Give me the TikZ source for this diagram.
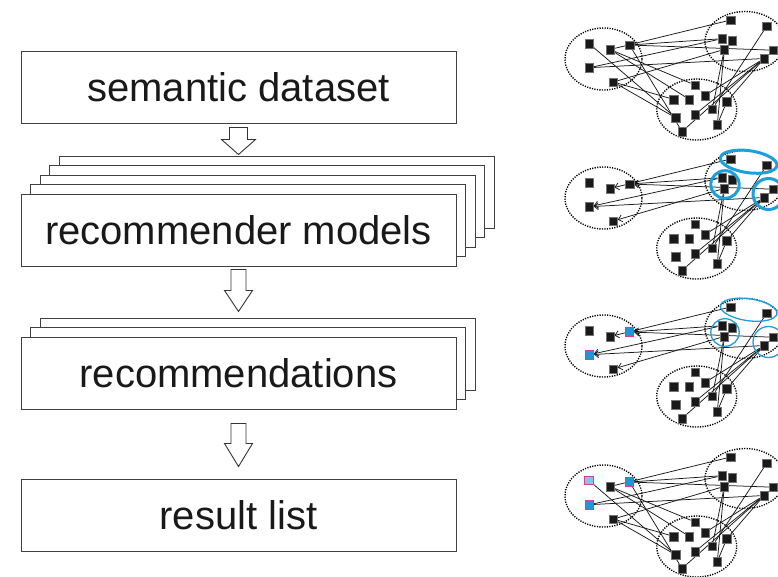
\documentclass[tikz,border=0pt]{standalone}
\usepackage{fontspec}
\setmainfont{Liberation Sans}
\usetikzlibrary{arrows.meta,calc}

\pgfdeclarelayer{paper}
\pgfdeclarelayer{edgelayer}
\pgfsetlayers{paper,edgelayer,main}

\definecolor{hlblue}{RGB}{27,160,221}
\definecolor{selblue}{RGB}{30,150,215}
\definecolor{lightsel}{RGB}{125,198,238}
\definecolor{selrim}{RGB}{228,56,142}

\tikzset{
  stagebox/.style={draw=black!75, line width=1pt, fill=white, rectangle,
    minimum width=435pt, minimum height=72pt, inner sep=0pt,
    font=\fontsize{40}{48}\selectfont, text=black!90},
  flowarrow/.style={draw=black!80, line width=0.9pt, fill=white, line join=miter},
  gitem/.style={rectangle, fill=black!90, draw=black!55, line width=0.3pt,
    minimum size=8.5pt, inner sep=0pt},
  gpicked/.style={gitem, fill=selblue, draw=selrim, line width=0.8pt},
  gpickedlight/.style={gitem, fill=lightsel, draw=selrim, line width=0.8pt},
  clusterline/.style={draw=black, line width=1.4pt, dash pattern=on 1.2pt off 1.3pt},
  glink/.style={line width=0.75pt, draw=black!90},
  gpull/.style={glink, -{Straight Barb[length=4pt,width=7pt]}},
  hlthick/.style={draw=hlblue, line width=3pt},
  hlthin/.style={draw=hlblue, line width=1.3pt},
}

% hollow block arrow: #1 start point (top centre), #2 half shaft width,
% #3 half head width, #4 shaft length, #5 head length
\newcommand{\hollowarrow}[5]{%
  \draw[flowarrow] (#1) ++(-#2,0) -- ++(0,#4) -- ++({#2-#3},0) -- ++(#3,#5)
    -- ++(#3,-#5) -- ++({#2-#3},0) -- ++(0,-#4) -- cycle;}

% three dotted clusters with their items; #1 prefix, #2 vertical offset,
% #3 #4 #5 styles of items L1, L3, L4
\newcommand{\graphnodes}[5]{%
  \begin{scope}[shift={(0,#2)}]
    \draw[clusterline] (603.5,59) ellipse [x radius=38.5pt, y radius=31pt];
    \draw[clusterline] (745,41.5) ellipse [x radius=40pt, y radius=30pt];
    \draw[clusterline] (696.7,109.5) ellipse [x radius=40pt, y radius=30.5pt];
    \node[#3] (#1L1) at (589,43.5) {};
    \node[gitem] (#1L2) at (610,49.5) {};
    \node[#4] (#1L3) at (629.5,45) {};
    \node[#5] (#1L4) at (589.3,67.7) {};
    \node[gitem] (#1L5) at (613.3,82) {};
    \node[gitem] (#1T1) at (730.7,20) {};
    \node[gitem] (#1T2) at (766.7,26.2) {};
    \node[gitem] (#1T3) at (722,38.7) {};
    \node[gitem] (#1T4) at (732.3,40.7) {};
    \node[gitem] (#1T5) at (724.3,49.4) {};
    \node[gitem] (#1T6) at (773.3,50.2) {};
    \node[gitem] (#1T7) at (764,58.5) {};
    \node[gitem] (#1B1) at (695,85) {};
    \node[gitem] (#1B2) at (673.7,99.4) {};
    \node[gitem] (#1B3) at (689.3,99.4) {};
    \node[gitem] (#1B4) at (705,95.5) {};
    \node[gitem] (#1B5) at (726.7,101.8) {};
    \node[gitem] (#1B6) at (712.3,109) {};
    \node[gitem] (#1B7) at (695,114.5) {};
    \node[gitem] (#1B8) at (675.7,117.8) {};
    \node[gitem] (#1B9) at (717.3,124.5) {};
    \node[gitem] (#1B10) at (682,131.5) {};
  \end{scope}}

% links between the two right-hand clusters and the lower one
\newcommand{\sidelinks}[1]{%
  \foreach \p/\q in {T2/B6,T5/B6,T5/B9,T7/B10,T7/B7,T7/B4,T7/B5,B5/B9}
    \draw[glink] (#1\p) -- (#1\q);}
% links from the left cluster to the lower one
\newcommand{\leftlinks}[1]{%
  \foreach \p/\q in {L1/B8,L2/B1,L2/B3,L3/B10,L5/B2,L5/B8}
    \draw[glink] (#1\p) -- (#1\q);}
% links between the left cluster and the upper right one; #2 line style
\newcommand{\acrosslinks}[2]{%
  \foreach \p/\q in {T1/L2,T3/L3,T6/L3,T3/L4,T7/L4,T5/L5}
    \draw[#2] (#1\p) -- (#1\q);}

% rings round the selected groups; #1 vertical offset, #2 style
\newcommand{\grouprings}[2]{%
  \begin{scope}[shift={(0,#1)}]
    \draw[#2, rotate around={-8:(748.7,22.7)}] (748.7,22.7)
      ellipse [x radius=28.5pt, y radius=11pt];
    \draw[#2] (725,45.5) ellipse [x radius=14.2pt, y radius=13.8pt];
    \draw[#2] (768.5,55) ellipse [x radius=15.5pt, y radius=15.5pt];
  \end{scope}}

\begin{document}
\begin{tikzpicture}[x=1pt, y=-1pt]
  \useasboundingbox (0,0) rectangle (778,576);
  \clip (0,0) rectangle (778,576);
  \begin{pgfonlayer}{paper}
    \fill[white] (0,0) rectangle (778,576);
  \end{pgfonlayer}

  % ---- processing pipeline ----
  \node[stagebox] (sd) at (238.5,87.5) {semantic dataset};

  \foreach \k in {4,3,2,1}
    \node[stagebox] (rmback\k) at ({238.5+9.5*\k},{230-9.5*\k}) {};
  \node[stagebox] (rm) at (238.5,230) {recommender models};

  \foreach \k in {2,1}
    \node[stagebox] (rcback\k) at ({238.5+9.5*\k},{373-9.5*\k}) {};
  \node[stagebox] (rc) at (238.5,373) {recommendations};

  \node[stagebox] (rl) at (238.5,515.5) {result list};

  \coordinate (a1) at ($(sd.south)+(0,3.5)$);
  \coordinate (a2) at ($(rm.south)+(0,3)$);
  \coordinate (a3) at ($(rc.south)+(0,14)$);
  \hollowarrow{a1}{9}{17}{12}{15}
  \hollowarrow{a2}{7.5}{14}{21}{21}
  \hollowarrow{a3}{7.5}{14}{20}{23}

  % ---- graph views ----
  \graphnodes{g1}{0}{gitem}{gitem}{gitem}
  \graphnodes{g2}{139}{gitem}{gitem}{gitem}
  \graphnodes{g3}{287}{gitem}{gpicked}{gpicked}
  \graphnodes{g4}{437}{gpickedlight}{gpicked}{gpicked}

  \begin{pgfonlayer}{edgelayer}
    \leftlinks{g1}\sidelinks{g1}\acrosslinks{g1}{glink}
    \sidelinks{g2}\acrosslinks{g2}{gpull}
    \sidelinks{g3}\acrosslinks{g3}{gpull}
    \leftlinks{g4}\sidelinks{g4}\acrosslinks{g4}{glink}
  \end{pgfonlayer}

  \grouprings{139}{hlthick}
  \grouprings{287}{hlthin}
\end{tikzpicture}
\end{document}
